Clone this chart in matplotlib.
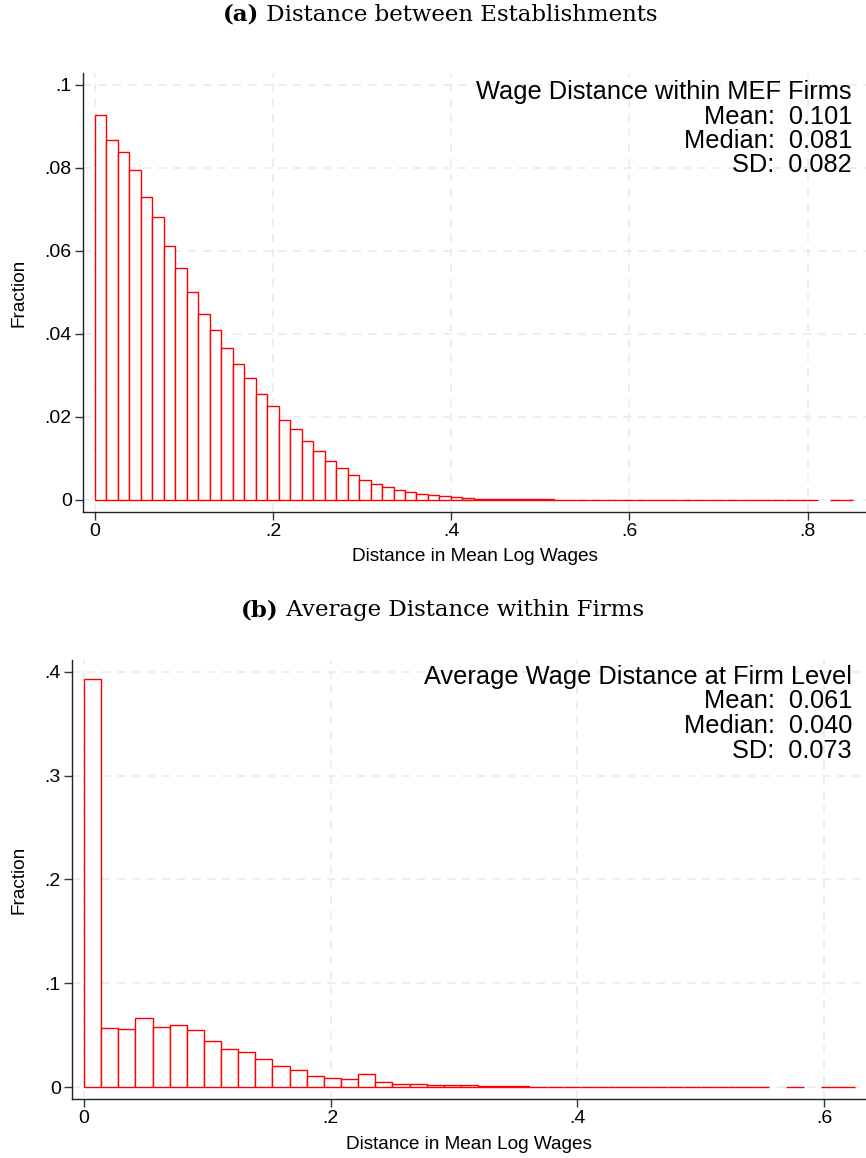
import numpy as np
import matplotlib
matplotlib.use("Agg")
import matplotlib.pyplot as plt

# ---------------------------------------------  data
# (a) distance between establishments, 66 bins
bw_a = 0.01289
frac_a = [0.0927, 0.0867, 0.0839, 0.0794, 0.0730, 0.0681, 0.0612, 0.0560,
          0.0500, 0.0449, 0.0409, 0.0365, 0.0327, 0.0294, 0.0256, 0.0226,
          0.0193, 0.0170, 0.0142, 0.0119, 0.0094, 0.0077, 0.0060, 0.0047,
          0.0039, 0.0030, 0.0024, 0.0018, 0.0015, 0.0012, 0.0009, 0.0006,
          0.0005, 0.0003, 0.00025, 0.0002, 0.00018, 0.00015, 0.00013, 0.00011,
          0.0001, 0.00009, 0.00008, 0.00007, 0.00006, 0.00006, 0.00005, 0.00005,
          0.00005, 0.00004, 0.00004, 0.00004, 0.00003, 0.00003, 0.00003, 0.00003,
          0.00003, 0.00002, 0.00002, 0.00002, 0.00002, 0.00002, 0.00002, 0.0,
          0.00002, 0.00002]
stats_a = ["Wage Distance within MEF Firms", "Mean:  0.101",
           "Median:  0.081", "SD:  0.082"]
xticks_a = [0, 0.2, 0.4, 0.6, 0.8]
yticks_a = [0, 0.02, 0.04, 0.06, 0.08, 0.1]

# (b) average distance within firms, 45 bins
bw_b = 0.01389
frac_b = [0.3936, 0.0565, 0.0555, 0.0661, 0.0581, 0.0600, 0.0546, 0.0440,
          0.0366, 0.0334, 0.0270, 0.0202, 0.0161, 0.0103, 0.0090, 0.0074,
          0.0122, 0.0051, 0.0026, 0.0026, 0.0016, 0.0016, 0.0016, 0.0010,
          0.0006, 0.0006, 0.0005, 0.0004, 0.0004, 0.0003, 0.0003, 0.0003,
          0.0002, 0.0002, 0.0002, 0.0002, 0.0001, 0.0001, 0.0001, 0.0001,
          0.0, 0.0001, 0.0, 0.0001, 0.0001]
stats_b = ["Average Wage Distance at Firm Level", "Mean:  0.061",
           "Median:  0.040", "SD:  0.073"]
xticks_b = [0, 0.2, 0.4, 0.6]
yticks_b = [0, 0.1, 0.2, 0.3, 0.4]

SANS = "Liberation Sans"
SERIF = "DejaVu Serif"


def stata_fmt(v):
    return "0" if v == 0 else ("%g" % v).lstrip("0")


def panel(fig, rect, frac, bw, xticks, yticks, xlim, ylim):
    ax = fig.add_axes(rect)
    frac = np.asarray(frac)
    lefts = bw * np.arange(len(frac))
    keep = frac > 0          # empty bins draw nothing (gaps in the tail)
    ax.bar(lefts[keep], frac[keep], width=bw, align="edge", facecolor="white",
           edgecolor="#ff0000", linewidth=1.0, zorder=2)
    ax.set_xlim(*xlim); ax.set_ylim(*ylim)
    ax.set_xticks(xticks); ax.set_yticks(yticks)
    ax.set_xticklabels([stata_fmt(v) for v in xticks], family=SANS, fontsize=14)
    ax.set_yticklabels([stata_fmt(v) for v in yticks], family=SANS, fontsize=14)
    ax.tick_params(length=6, width=1.0, pad=2, color="#333333")
    ax.grid(True, color="#ebebeb", linestyle=(0, (5, 4)), linewidth=1.2, zorder=0)
    ax.set_axisbelow(True)
    for s in ("top", "right"):
        ax.spines[s].set_visible(False)
    for s in ("left", "bottom"):
        ax.spines[s].set_color("#222222"); ax.spines[s].set_linewidth(1.0)
    ax.set_xlabel("Distance in Mean Log Wages", family=SANS, fontsize=13.7, labelpad=6)
    ax.set_ylabel("Fraction", family=SANS, fontsize=13.7, labelpad=12)
    return ax


def title(fig, cx, y, tag, txt):
    t1 = fig.text(0, y, tag, family=SERIF, weight="bold", fontsize=16.5, va="baseline")
    t2 = fig.text(0, y, " " + txt, family=SERIF, fontsize=16.5, va="baseline")
    r = fig.canvas.get_renderer()
    w1 = t1.get_window_extent(r).width / fig.bbox.width
    w2 = t2.get_window_extent(r).width / fig.bbox.width
    x0 = cx - (w1 + w2) / 2
    t1.set_x(x0); t2.set_x(x0 + w1)


fig = plt.figure(figsize=(8.66, 11.58), dpi=100)

ax_a = panel(fig, [0.0958, 0.5579, 0.9042, 0.3791], frac_a, bw_a, xticks_a,
             yticks_a, (-0.0135, 0.8656), (-0.0029, 0.1029))
ax_b = panel(fig, [0.0831, 0.0509, 0.9169, 0.3791], frac_b, bw_b, xticks_b,
             yticks_b, (-0.0098, 0.634), (-0.0116, 0.4114))

# stats boxes, right aligned, one line each (figure pixels -> fraction)
H = 1158.0
for lines, ys in ((stats_a, [99, 124, 148, 172]), (stats_b, [684, 708, 733, 758])):
    for s, yp in zip(lines, ys):
        fig.text(852 / 866.0, 1 - yp / H, s, family=SANS, fontsize=18.3,
                 ha="right", va="baseline", zorder=5)

title(fig, 0.5087, 1 - 20.7 / H, "(a)", "Distance between Establishments")
title(fig, 0.511, 1 - 616 / H, "(b)", "Average Distance within Firms")

fig.savefig("out.png", dpi=100)
